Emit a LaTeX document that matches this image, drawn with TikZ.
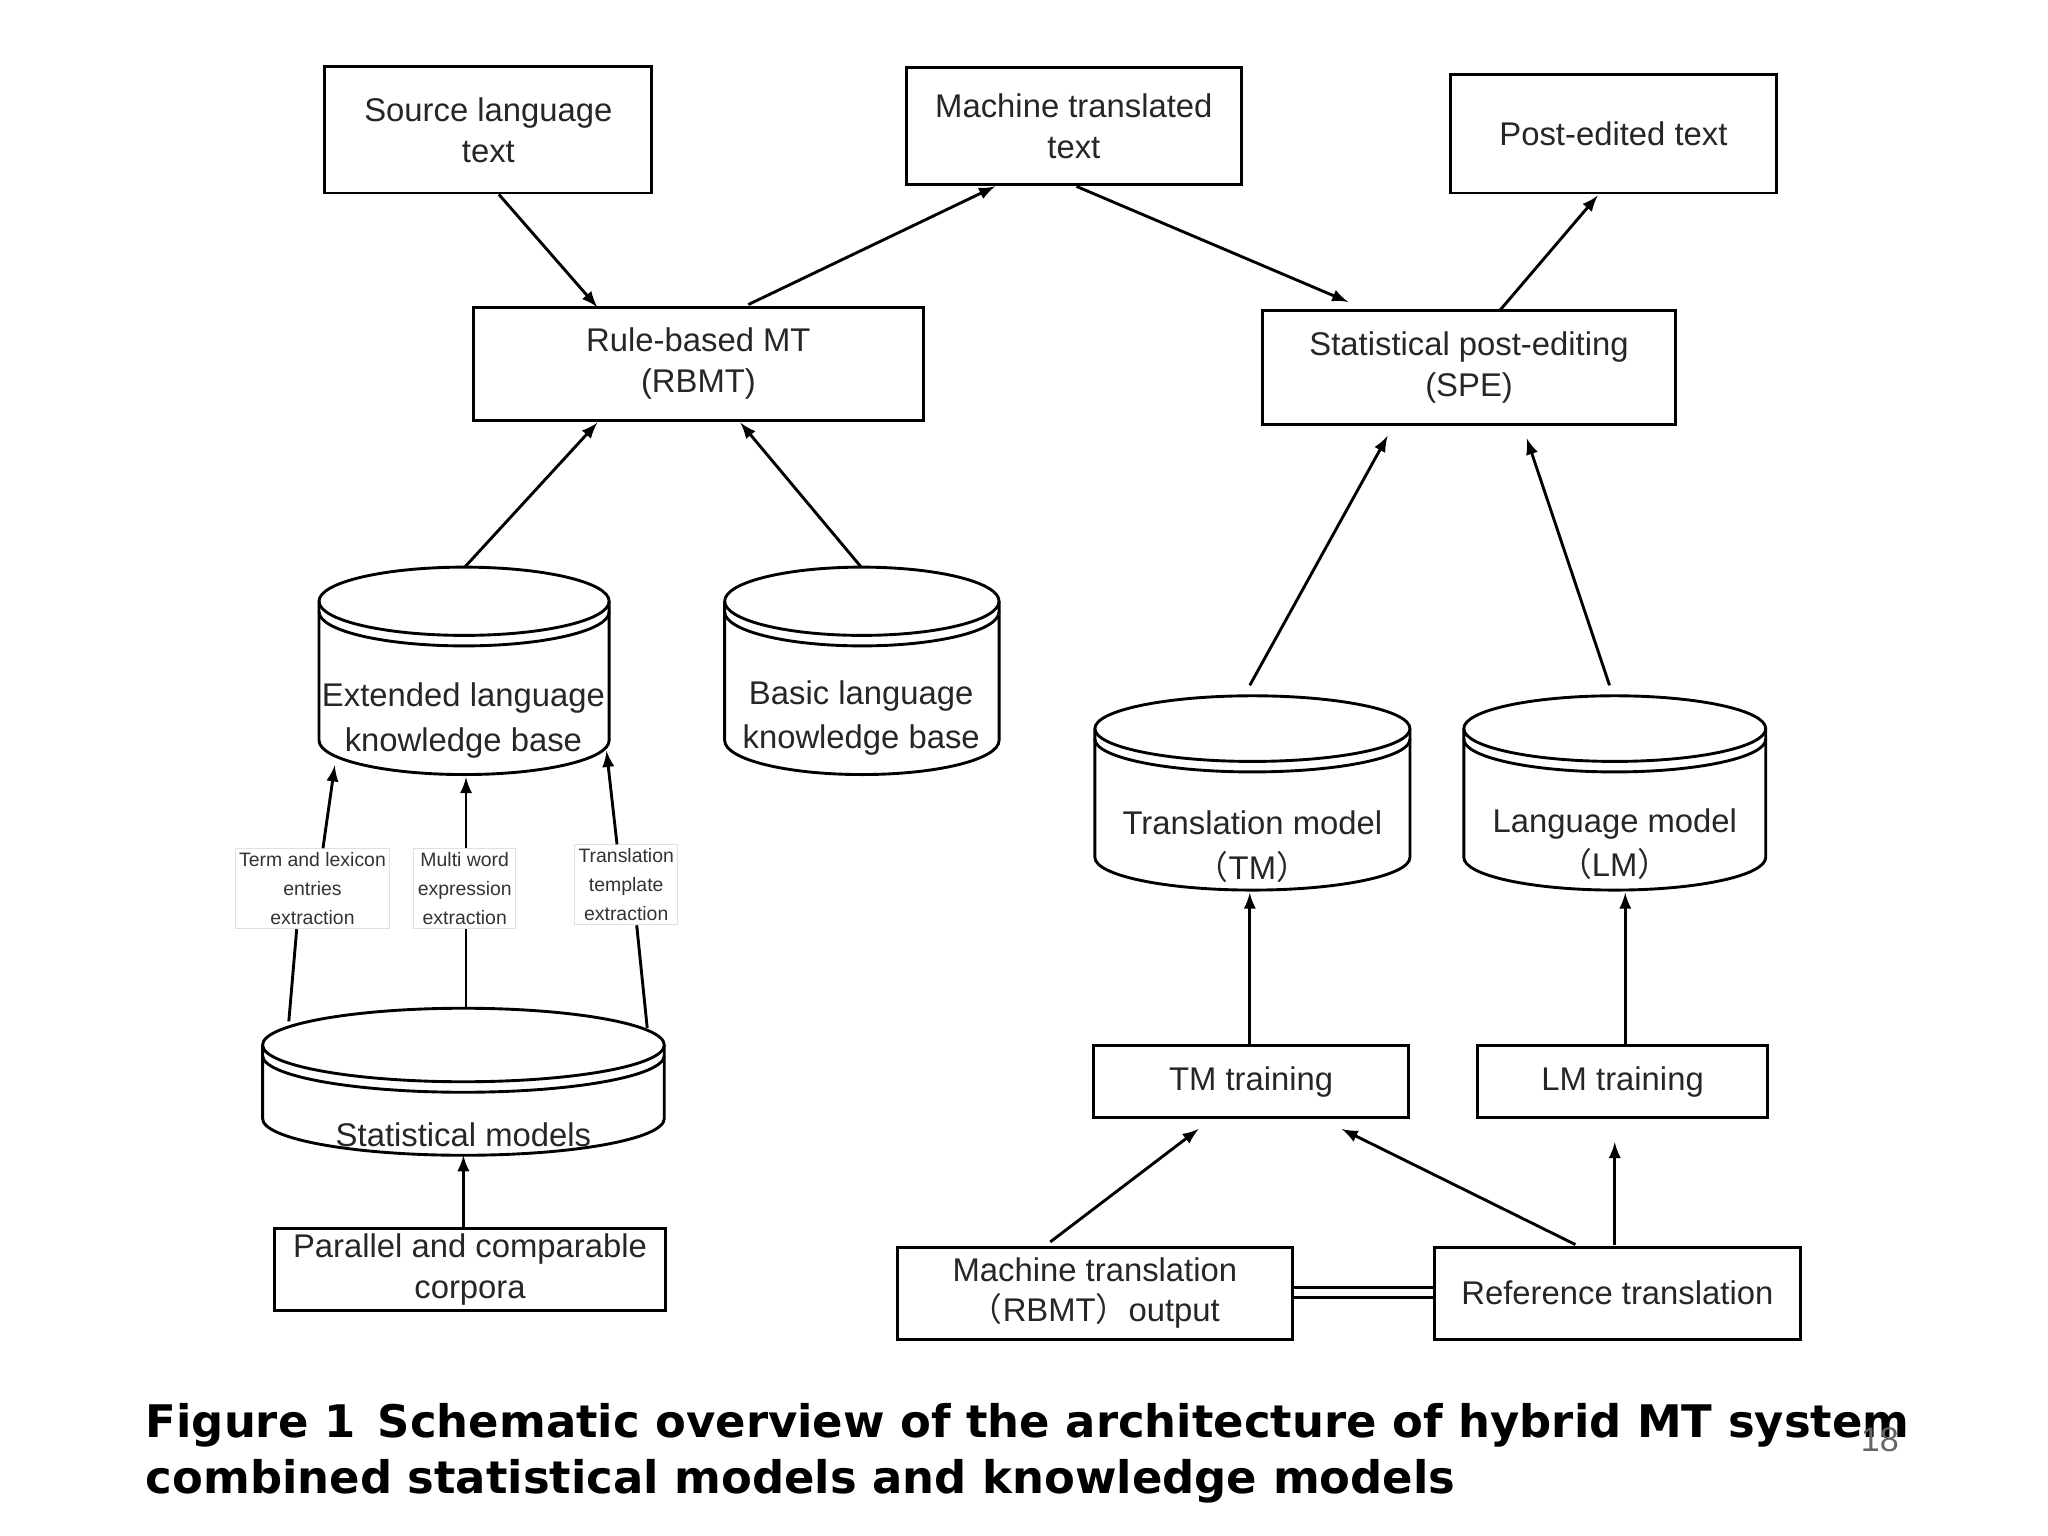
\documentclass[tikz,border=0pt]{standalone}
\usepackage{fontspec}
\setmainfont{Liberation Sans}
\newfontfamily\capfont{DejaVu Sans}
\newfontfamily\cjk{Noto Sans CJK SC}
\newcommand\lp{{\cjk （}}
\newcommand\rp{{\cjk ）}}
\begin{document}
\begin{tikzpicture}[x=0.5pt,y=0.5pt,
  box/.style={draw,line width=1.1pt,inner sep=0,font=\fontsize{12.5}{15.5}\selectfont,align=center,text=black!85},
  lab/.style={draw=black!12,fill=white,inner sep=1.5pt,font=\fontsize{7.4}{11}\selectfont,align=center,text=black!80},
  arr/.style={-latex,line width=1.1pt},
  ln/.style={line width=1.1pt}]
\useasboundingbox (0,0) rectangle (1560,-1170);
\newcommand\mycyl[5]{% cx, top-center y, rx, ry, bottom-center y
 \draw[ln,fill=white] ({#1},{-(#2)}) ellipse[x radius=#3,y radius=#4];
 \draw[ln] ({#1-#3},{-(#2)}) -- ({#1-#3},{-(#2)-8}) arc[start angle=180,end angle=360,x radius=#3,y radius=#4] -- ({#1+#3},{-(#2)});
 \draw[ln] ({#1-#3},{-(#2)-8}) -- ({#1-#3},{-(#5)}) arc[start angle=180,end angle=360,x radius=#3,y radius=#4] -- ({#1+#3},{-(#2)-8});}
% boxes
\node[box,minimum width=124.5pt,minimum height=48pt] (src) at (372,-99) {Source language\\text};
\node[box,minimum width=127.5pt,minimum height=44.5pt] (mtt) at (818,-96) {Machine translated\\text};
\node[box,minimum width=124pt,minimum height=45pt] (pet) at (1229,-102) {Post-edited text};
\node[box,minimum width=171.5pt,minimum height=43pt] (rbmt) at (532,-277) {Rule-based MT\\(RBMT)};
\node[box,minimum width=157pt,minimum height=43.5pt] (spe) at (1119,-280) {Statistical post-editing\\(SPE)};
\node[box,minimum width=149pt,minimum height=31.5pt] (par) at (358,-967) {Parallel and comparable\\corpora};
\node[box,minimum width=120pt,minimum height=27.5pt] (tmt) at (953,-824) {TM training};
\node[box,minimum width=110.5pt,minimum height=27.5pt] (lmt) at (1236,-824) {LM training};
\node[box,minimum width=150.5pt,minimum height=35pt] (mto) at (834,-985) {Machine translation\\\lp RBMT\rp output};
\node[box,minimum width=139.5pt,minimum height=35pt] (ref) at (1232,-985) {Reference translation};
\draw[line width=1.1pt] (mto.east|-0,-981) -- (ref.west|-0,-981) (mto.east|-0,-988) -- (ref.west|-0,-988);
% cylinders
\mycyl{353.5}{458}{110.5}{26}{564}
\mycyl{656.5}{458}{104.5}{26}{564}
\mycyl{954}{555}{120}{25}{653}
\mycyl{1230}{555}{115}{25}{653}
\mycyl{353}{796}{153}{28}{852}
\node[font=\fontsize{12.5}{17}\selectfont,align=center,text=black!85] (ext) at (353,-549) {Extended language\\knowledge base};
\node[font=\fontsize{12.5}{17}\selectfont,align=center,text=black!85] (bas) at (656,-547) {Basic language\\knowledge base};
\node[font=\fontsize{12.5}{17}\selectfont,align=center,text=black!85] (tm) at (954,-645) {Translation model\\\lp TM\rp};
\node[font=\fontsize{12.5}{17}\selectfont,align=center,text=black!85] (lm) at (1230,-643) {Language model\\\lp LM\rp};
\node[font=\fontsize{12.5}{17}\selectfont,text=black!85] (stat) at (353,-864) {Statistical models};
% coordinates
\coordinate (e1) at (255,-583); \coordinate (e2) at (355,-592); \coordinate (e3) at (462,-572);
\coordinate (s1) at (220,-778); \coordinate (s2) at (355,-768); \coordinate (s3) at (493,-783);
\coordinate (et) at (354,-432); \coordinate (bt) at (656,-432);
\coordinate (tt) at (952,-522); \coordinate (lt) at (1226,-522);
% labels on lines
\node[lab] (l1) at (238,-677) {Term and lexicon\\entries\\extraction};
\node[lab] (l2) at (354,-677) {Multi word\\expression\\extraction};
\node[lab] (l3) at (477,-674) {Translation\\template\\extraction};
\draw[ln] (s1) -- (l1.south -| 226,0);
\draw[arr] (l1.north -| 246,0) -- (e1);
\draw[ln] (s2) -- (l2.south -| s2);
\draw[arr] (l2.north -| e2) -- (e2);
\draw[ln] (s3) -- (l3.south -| 485,0);
\draw[arr] (l3.north -| 470,0) -- (e3);
% arrows
\draw[arr] (src.south -| 380,0) -- (455,-234);
\draw[arr] (570,-232) -- (758,-142);
\draw[arr] (820,-142) -- (1027,-230);
\draw[arr] (1142,-237) -- (1217,-149);
\draw[arr] (et) -- (455,-322);
\draw[arr] (bt) -- (564,-322);
\draw[arr] (tt) -- (1057,-332);
\draw[arr] (lt) -- (1163,-334);
\draw[arr] (par.north -| 353,0) -- (353,-880);
\draw[arr] (tmt.north -| 952,0) -- (952,-680);
\draw[arr] (lmt.north -| 1238,0) -- (1238,-680);
\draw[arr] (800,-946) -- (913,-860);
\draw[arr] (1200,-948) -- (1022,-860);
\draw[arr] (1230,-948) -- (1230,-870);
% caption
\node[anchor=west,font=\capfont\bfseries\fontsize{17.1}{21}\selectfont,align=left] (cap) at (104,-1107) {Figure 1\enspace Schematic overview of the architecture of hybrid MT system\\combined statistical models and knowledge models};
\node[font=\fontsize{13}{15}\selectfont,text=black!60] (pg) at (1432,-1097) {18};
\end{tikzpicture}
\end{document}
